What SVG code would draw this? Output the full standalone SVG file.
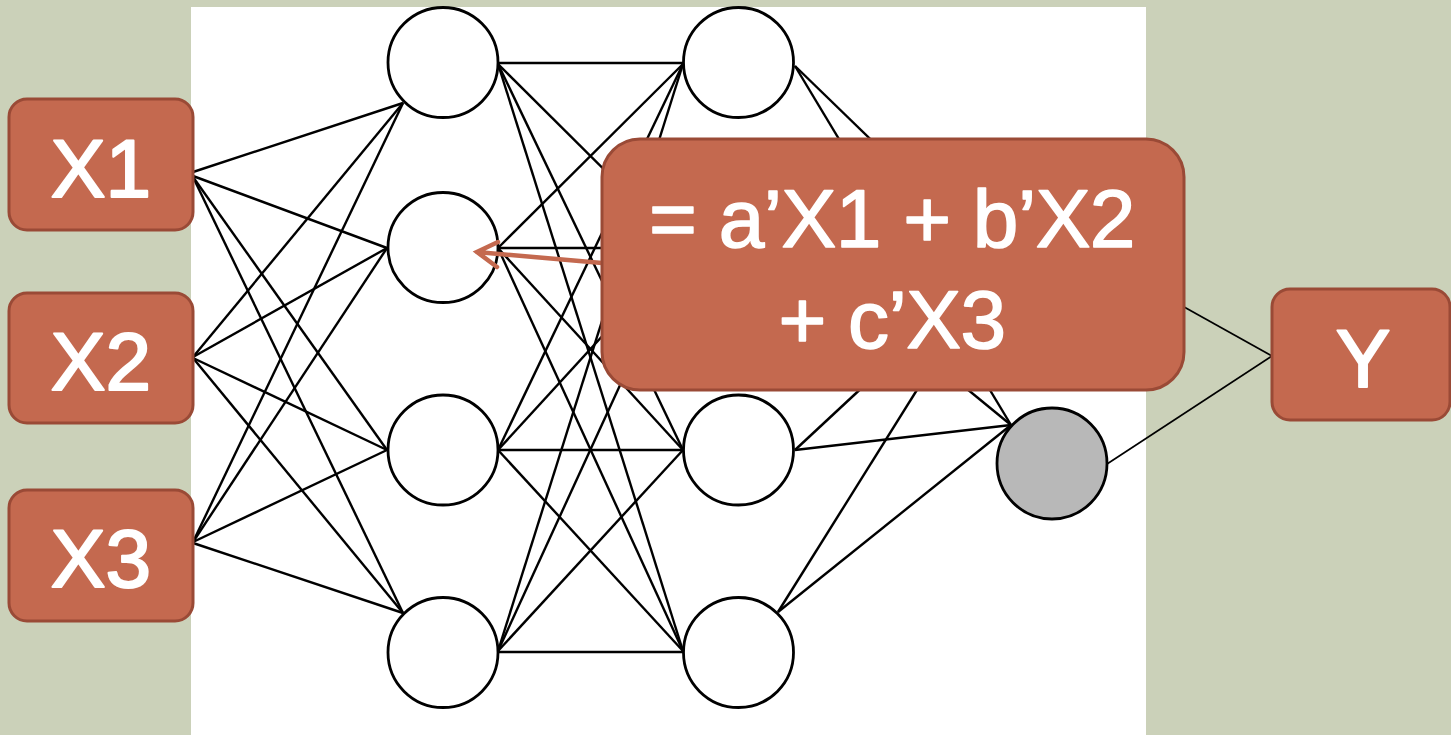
<svg xmlns="http://www.w3.org/2000/svg" width="1451" height="735" viewBox="0 0 1451 735">
<style>
.bg{fill:#CBD1B9}
.panel{fill:#FFFFFF}
.n{fill:#FFFFFF;stroke:#000;stroke-width:2.8}
.out{fill:#B8B8B8;stroke:#000;stroke-width:2.8}
.e{stroke:#000;stroke-width:2.4;fill:none}
.thin{stroke:#000;stroke-width:1.7;fill:none}
.box{fill:#C4694F;stroke:#9A4A36;stroke-width:3}
.lbl{fill:#FFFFFF;stroke:#FFFFFF;stroke-width:2.2;stroke-linejoin:round;font-family:"Liberation Sans",Arial,sans-serif;font-size:82px;text-anchor:middle}
.eq{stroke-width:1.6;letter-spacing:-0.5px}
.arrow{stroke:#C4694F;stroke-width:4.5;fill:none;stroke-linecap:round;stroke-linejoin:miter}
</style>
<rect class="bg" x="0" y="0" width="1451" height="735"/>
<rect class="panel" x="191" y="7" width="955" height="728"/>
<g id="connectors">
  <line class="e" x1="193" y1="172" x2="403" y2="103"/>
  <line class="e" x1="193" y1="176" x2="387" y2="248"/>
  <line class="e" x1="193" y1="177" x2="387" y2="450"/>
  <line class="e" x1="193" y1="177" x2="403" y2="613"/>
  <line class="e" x1="193" y1="357" x2="403" y2="103"/>
  <line class="e" x1="193" y1="357" x2="387" y2="248"/>
  <line class="e" x1="193" y1="358" x2="387" y2="450"/>
  <line class="e" x1="193" y1="358" x2="403" y2="613"/>
  <line class="e" x1="193" y1="542" x2="403" y2="103"/>
  <line class="e" x1="193" y1="542" x2="387" y2="248"/>
  <line class="e" x1="193" y1="542" x2="387" y2="450"/>
  <line class="e" x1="193" y1="543" x2="403" y2="613"/>
  <line class="e" x1="498" y1="63" x2="683" y2="63"/>
  <line class="e" x1="498" y1="64" x2="683" y2="248"/>
  <line class="e" x1="498" y1="64" x2="683" y2="450"/>
  <line class="e" x1="498" y1="64" x2="683" y2="651"/>
  <line class="e" x1="498" y1="248" x2="683" y2="64"/>
  <line class="e" x1="498" y1="248" x2="683" y2="248"/>
  <line class="e" x1="498" y1="248" x2="683" y2="450"/>
  <line class="e" x1="498" y1="248" x2="683" y2="651"/>
  <line class="e" x1="498" y1="450" x2="683" y2="64"/>
  <line class="e" x1="498" y1="450" x2="683" y2="248"/>
  <line class="e" x1="498" y1="450" x2="683" y2="450"/>
  <line class="e" x1="498" y1="450" x2="683" y2="651"/>
  <line class="e" x1="498" y1="651" x2="683" y2="64"/>
  <line class="e" x1="498" y1="651" x2="683" y2="248"/>
  <line class="e" x1="498" y1="651" x2="683" y2="450"/>
  <line class="e" x1="498" y1="652" x2="683" y2="652"/>
  <line class="e" x1="795" y1="66" x2="997" y2="262"/>
  <line class="e" x1="795" y1="66" x2="1011" y2="425"/>
  <line class="e" x1="795" y1="248" x2="997" y2="262"/>
  <line class="e" x1="795" y1="248" x2="1011" y2="425"/>
  <line class="e" x1="795" y1="450" x2="997" y2="262"/>
  <line class="e" x1="795" y1="450" x2="1011" y2="425"/>
  <line class="e" x1="778" y1="612" x2="997" y2="262"/>
  <line class="e" x1="778" y1="612" x2="1011" y2="425"/>
  <line class="thin" x1="1107" y1="264" x2="1272" y2="356"/>
  <line class="thin" x1="1107" y1="464" x2="1272" y2="356"/>
</g>
<g id="layer1">
  <circle id="h1a" class="n" cx="443" cy="62.5" r="55"/>
  <circle id="h1b" class="n" cx="443" cy="247.5" r="55"/>
  <circle id="h1c" class="n" cx="443" cy="450" r="55"/>
  <circle id="h1d" class="n" cx="443" cy="652.5" r="55"/>
</g>
<g id="layer2">
  <circle id="h2a" class="n" cx="738.5" cy="62.5" r="55"/>
  <circle id="h2b" class="n" cx="738.5" cy="247.5" r="55"/>
  <circle id="h2c" class="n" cx="738.5" cy="450" r="55"/>
  <circle id="h2d" class="n" cx="738.5" cy="652.5" r="55"/>
</g>
<g id="output">
  <ellipse class="out" cx="1052" cy="463.5" rx="55" ry="55.5"/>
</g>
<g id="x1">
  <rect class="box" x="9" y="99" width="184" height="131" rx="18"/>
  <text class="lbl" x="101" y="197">X1</text>
</g>
<g id="x2">
  <rect class="box" x="9" y="293" width="184" height="130" rx="18"/>
  <text class="lbl" x="101" y="390">X2</text>
</g>
<g id="x3">
  <rect class="box" x="9" y="490" width="184" height="131" rx="18"/>
  <text class="lbl" x="101" y="587">X3</text>
</g>
<g id="y">
  <rect class="box" x="1272" y="289" width="178" height="131" rx="18"/>
  <text class="lbl" x="1363" y="387">Y</text>
</g>
<g id="callout">
  <path class="arrow" d="M602,263 L477,252 M498,242 L477,252 L497,267"/>
  <rect class="box" x="602" y="139" width="582" height="251" rx="38"/>
  <text class="lbl eq" x="892" y="247">= a’X1 + b’X2</text>
  <text class="lbl eq" x="892" y="348">+ c’X3</text>
</g>
</svg>
